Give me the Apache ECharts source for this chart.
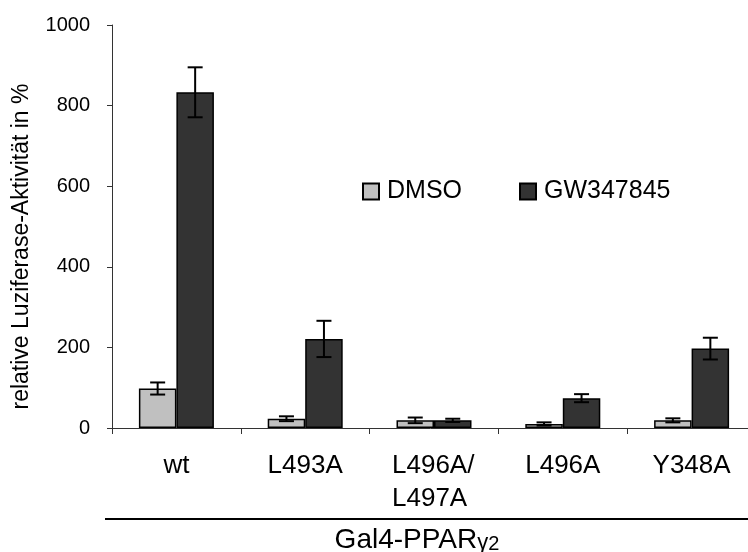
<!DOCTYPE html>
<html>
<head>
<meta charset="utf-8">
<script src="https://cdn.jsdelivr.net/npm/echarts@6/dist/echarts.min.js"></script>
<style>
  html, body { margin: 0; padding: 0; background: #fff; }
  #chart { width: 748px; height: 552px; }
</style>
</head>
<body>
<div id="chart"></div>
<script>
// Reporter assay: relative luciferase activity per Gal4-PPARγ2 construct
const categories = ['wt', 'L493A', 'L496A/\nL497A', 'L496A', 'Y348A'];
const dmsoValues = [98, 23, 19, 10, 19];
const dmsoErrors = [15, 6, 7, 4, 5];
const gwValues = [833, 221, 19, 74, 197];
const gwErrors = [62, 45, 4, 10, 27];
const yTicks = [0, 200, 400, 600, 800, 1000];

const FONT = '"Liberation Sans", Arial, sans-serif';
const BAR_W = 37.5;

const chart = echarts.init(document.getElementById('chart'), null, { renderer: 'canvas' });

// error bar drawn at the centre of a bar, offset within its category slot
function errorBars(values, errors, side) {
  return {
    type: 'custom',
    silent: true,
    z: 5,
    data: values.map((v, i) => [i, v, errors[i]]),
    encode: { x: 0, y: 1 },
    renderItem: function (params, api) {
      const idx = api.value(0);
      const v = api.value(1);
      const e = api.value(2);
      const top = api.coord([idx, v + e]);
      const bot = api.coord([idx, v - e]);
      const x = top[0] + side * BAR_W / 2;
      const cap = 7.5;
      const style = { stroke: '#000', lineWidth: 2 };
      return {
        type: 'group',
        children: [
          { type: 'line', shape: { x1: x, y1: top[1], x2: x, y2: bot[1] }, style: style },
          { type: 'line', shape: { x1: x - cap, y1: top[1], x2: x + cap, y2: top[1] }, style: style },
          { type: 'line', shape: { x1: x - cap, y1: bot[1], x2: x + cap, y2: bot[1] }, style: style }
        ]
      };
    }
  };
}

const option = {
  animation: false,
  backgroundColor: '#fff',
  textStyle: { fontFamily: FONT, color: '#000' },
  grid: { left: 112, top: 25, width: 644, height: 403, containLabel: false, outerBoundsMode: 'none' },
  legend: {
    data: ['DMSO', 'GW347845'],
    left: 357,
    top: 174,
    icon: 'rect',
    itemWidth: 16,
    itemHeight: 16,
    itemGap: 57,
    textStyle: { fontFamily: FONT, fontSize: 25, color: '#000', padding: [0, 0, 0, 3] }
  },
  xAxis: {
    type: 'category',
    data: categories,
    axisLine: { lineStyle: { color: '#333', width: 1 } },
    axisTick: { show: true, length: 6, lineStyle: { color: '#333' } },
    axisLabel: {
      interval: 0,
      margin: 21,
      fontFamily: FONT,
      fontSize: 26,
      lineHeight: 33,
      color: '#000',
      formatter: function (val) {
        if (val.indexOf('\n') >= 0) {
          return val.split('\n').map(s => '{l|' + s + '}').join('\n');
        }
        return val;
      },
      rich: {
        l: { width: 84, align: 'left', fontFamily: FONT, fontSize: 26, lineHeight: 33, color: '#000' }
      }
    },
    name: '{a|Gal4-PPAR}{g|γ}{s|2}',
    nameLocation: 'middle',
    nameGap: 96,
    nameTextStyle: {
      padding: [0, 34, 0, 0],
      rich: {
        a: { fontFamily: FONT, fontSize: 28, lineHeight: 30, color: '#000', verticalAlign: 'bottom' },
        g: { fontFamily: FONT, fontSize: 22, lineHeight: 24, color: '#000', verticalAlign: 'bottom' },
        s: { fontFamily: FONT, fontSize: 20, lineHeight: 24, color: '#000', verticalAlign: 'bottom' }
      }
    }
  },
  yAxis: {
    type: 'value',
    min: 0,
    max: 1000,
    interval: 200,
    splitLine: { show: false },
    axisLine: { show: true, lineStyle: { color: '#333', width: 1 } },
    axisTick: { show: true, length: 5, lineStyle: { color: '#333' } },
    axisLabel: {
      margin: 22,
      fontFamily: FONT,
      fontSize: 20,
      color: '#000',
      formatter: function (v) { return yTicks.indexOf(v) >= 0 ? String(v) : ''; }
    },
    name: 'relative Luziferase-Aktivität in %',
    nameLocation: 'middle',
    nameRotate: 90,
    nameGap: 79,
    nameTextStyle: { fontFamily: FONT, fontSize: 23, color: '#000', padding: [0, 40, 0, 0] }
  },
  series: [
    {
      name: 'DMSO',
      type: 'bar',
      data: dmsoValues,
      barWidth: BAR_W,
      barGap: '0%',
      itemStyle: { color: '#c0c0c0', borderColor: '#000', borderWidth: 1.5 }
    },
    {
      name: 'GW347845',
      type: 'bar',
      data: gwValues,
      barWidth: BAR_W,
      barGap: '0%',
      itemStyle: { color: '#333333', borderColor: '#000', borderWidth: 1.5 }
    },
    errorBars(dmsoValues, dmsoErrors, -1),
    errorBars(gwValues, gwErrors, 1)
  ],
  graphic: [
    {
      type: 'line',
      shape: { x1: 105, y1: 519, x2: 748, y2: 519 },
      style: { stroke: '#000', lineWidth: 2 },
      silent: true
    }
  ]
};

chart.setOption(option);
</script>
</body>
</html>
